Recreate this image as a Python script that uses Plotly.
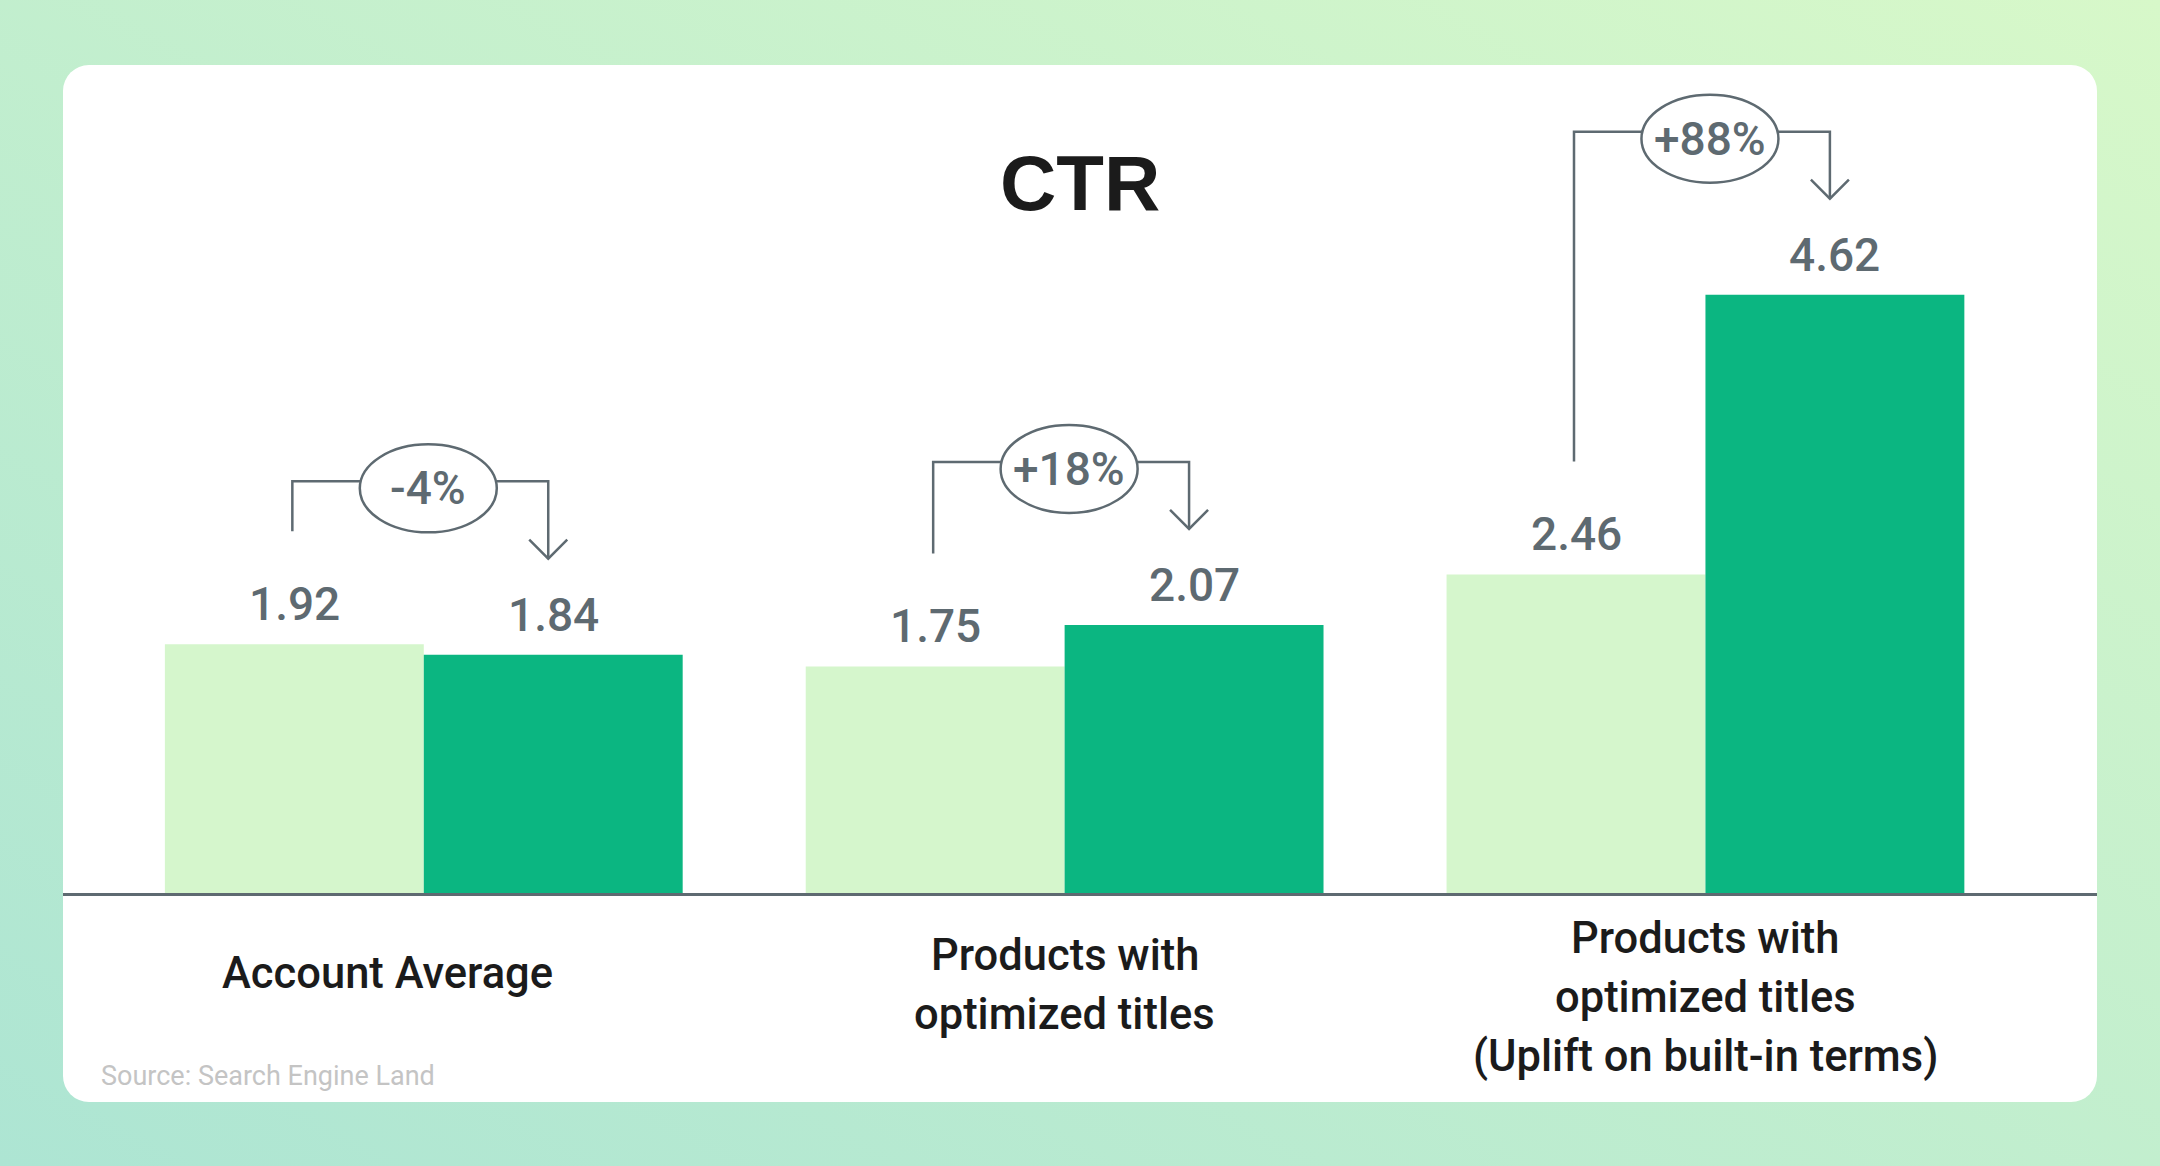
import base64
import plotly.graph_objects as go

# ---------------- data ----------------
categories = [
    "Account Average",
    "Products with\noptimized titles",
    "Products with\noptimized titles\n(Uplift on built-in terms)",
]
before_values = [1.92, 1.75, 2.46]
after_values = [1.84, 2.07, 4.62]
uplift_labels = ["-4%", "+18%", "+88%"]
title_text = "CTR"
source_text = "Source: Search Engine Land"

# ---------------- style / layout ----------------
W, H = 2160, 1166
L, R, T, B = 63, 2097, 65, 893          # plot area in pixels
plot_w, plot_h = R - L, B - T
X0, X1 = -0.563, 2.611
Y0, Y1 = 0.0, plot_h / 129.5
XPU = plot_w / (X1 - X0)
YPU = plot_h / (Y1 - Y0)
BARGAP = 0.192
BW = (1 - BARGAP) / 2

LIGHT = "#d5f6cc"
DARK = "#0bb681"
GRAY = "#5e6a71"
BLACK = "#1b1b1b"
NUM_FONT = "Roboto, Liberation Sans, sans-serif"
TITLE_FONT = "Liberation Sans, Arial, sans-serif"
LBL_FONT = "Roboto, sans-serif"


def paper(px, py):
    return (px - L) / plot_w, (B - py) / plot_h


xs = list(range(len(categories)))

fig = go.Figure()
fig.add_trace(go.Bar(x=xs, y=before_values, marker=dict(color=LIGHT, line=dict(width=0)),
                     hoverinfo="skip", showlegend=False))
fig.add_trace(go.Bar(x=xs, y=after_values, marker=dict(color=DARK, line=dict(width=0)),
                     hoverinfo="skip", showlegend=False))

shapes = []
annotations = []

for i in xs:
    v1, v2 = before_values[i], after_values[i]
    xl, xr = i - BW / 2, i + BW / 2
    # value labels
    for xx, v in ((xl, v1), (xr, v2)):
        annotations.append(dict(x=xx, y=v, xref="x", yref="y", text=f"{v:.2f}",
                                showarrow=False, yshift=40, yanchor="middle",
                                font=dict(family=NUM_FONT, size=46, color=GRAY, weight=500)))
    # bracket
    bl = xl - 2 / XPU
    br = xr - 5 / XPU
    line_y = max(v1, v2) + 163 / YPU
    left_bot = v1 + 113 / YPU
    tip = v2 + 96 / YPU
    shapes.append(dict(type="path", xref="x", yref="y",
                       path=f"M {bl},{left_bot} L {bl},{line_y} L {br},{line_y} L {br},{tip}",
                       line=dict(color=GRAY, width=2.5)))
    hw, hh = 19 / XPU, 19 / YPU
    shapes.append(dict(type="path", xref="x", yref="y",
                       path=f"M {br - hw},{tip + hh} L {br},{tip} L {br + hw},{tip + hh}",
                       line=dict(color=GRAY, width=2.5)))
    cx = (bl + br) / 2 + 8 / XPU
    cy = line_y - 7 / YPU
    ew, eh = 68.5 / XPU, 44 / YPU
    shapes.append(dict(type="circle", xref="x", yref="y",
                       x0=cx - ew, x1=cx + ew, y0=cy - eh, y1=cy + eh,
                       fillcolor="white", line=dict(color=GRAY, width=2.5)))
    annotations.append(dict(x=cx, y=cy, xref="x", yref="y", text=uplift_labels[i],
                            showarrow=False, yanchor="middle",
                            font=dict(family=NUM_FONT, size=46, color=GRAY, weight=500)))

# category labels (one annotation per line)
label_xshift = [-36, 0, 0]
for i, cat in enumerate(categories):
    lines = cat.split("\n")
    n = len(lines)
    center_y = 973 + 12.3 * (n - 1)
    for k, ln in enumerate(lines):
        py = center_y + (k - (n - 1) / 2) * 59
        _, yp = paper(0, py)
        annotations.append(dict(x=i, y=yp, xref="x", yref="paper", text=ln,
                                showarrow=False, yanchor="middle", xshift=label_xshift[i],
                                font=dict(family=LBL_FONT, size=43.5, color=BLACK, weight=500)))

# title
tx, ty = paper(1080, 183)
annotations.append(dict(x=tx, y=ty, xref="paper", yref="paper", text=f"<b>{title_text}</b>",
                        showarrow=False, yanchor="middle",
                        font=dict(family=TITLE_FONT, size=78, color=BLACK)))
# source
sx, sy = paper(99, 1076)
annotations.append(dict(x=sx, y=sy, xref="paper", yref="paper", text=source_text,
                        showarrow=False, xanchor="left", yanchor="middle",
                        font=dict(family=LBL_FONT, size=27, color="#c4c4c4")))

# background: gradient + white rounded card
svg = f"""<svg xmlns='http://www.w3.org/2000/svg' width='{W}' height='{H}' viewBox='0 0 {W} {H}' preserveAspectRatio='none'>
<defs><linearGradient id='g' x1='0' y1='1' x2='1' y2='0'>
<stop offset='0' stop-color='#ade5d3'/><stop offset='1' stop-color='#d7f8c9'/></linearGradient></defs>
<rect width='{W}' height='{H}' fill='url(#g)'/>
<rect x='{L}' y='{T}' width='{plot_w}' height='{1102 - T}' rx='26' ry='26' fill='#ffffff'/>
</svg>"""
src = "data:image/svg+xml;base64," + base64.b64encode(svg.encode()).decode()
ix, iy = paper(0, 0)

fig.update_layout(
    width=W, height=H,
    margin=dict(l=L, r=W - R, t=T, b=H - B, pad=0),
    paper_bgcolor="#c3eecf",
    plot_bgcolor="rgba(0,0,0,0)",
    barmode="group", bargap=BARGAP, bargroupgap=0,
    showlegend=False,
    shapes=shapes,
    annotations=annotations,
    images=[dict(source=src, xref="paper", yref="paper", x=ix, y=iy,
                 sizex=W / plot_w, sizey=H / plot_h, xanchor="left", yanchor="top",
                 sizing="stretch", layer="below")],
    xaxis=dict(range=[X0, X1], showgrid=False, zeroline=False, showticklabels=False,
               ticks="", showline=True, linecolor=GRAY, linewidth=2.5, fixedrange=True),
    yaxis=dict(range=[Y0, Y1], showgrid=False, zeroline=False, showticklabels=False,
               ticks="", showline=False, fixedrange=True),
)

fig.write_html("out.html", config=dict(displayModeBar=False))
